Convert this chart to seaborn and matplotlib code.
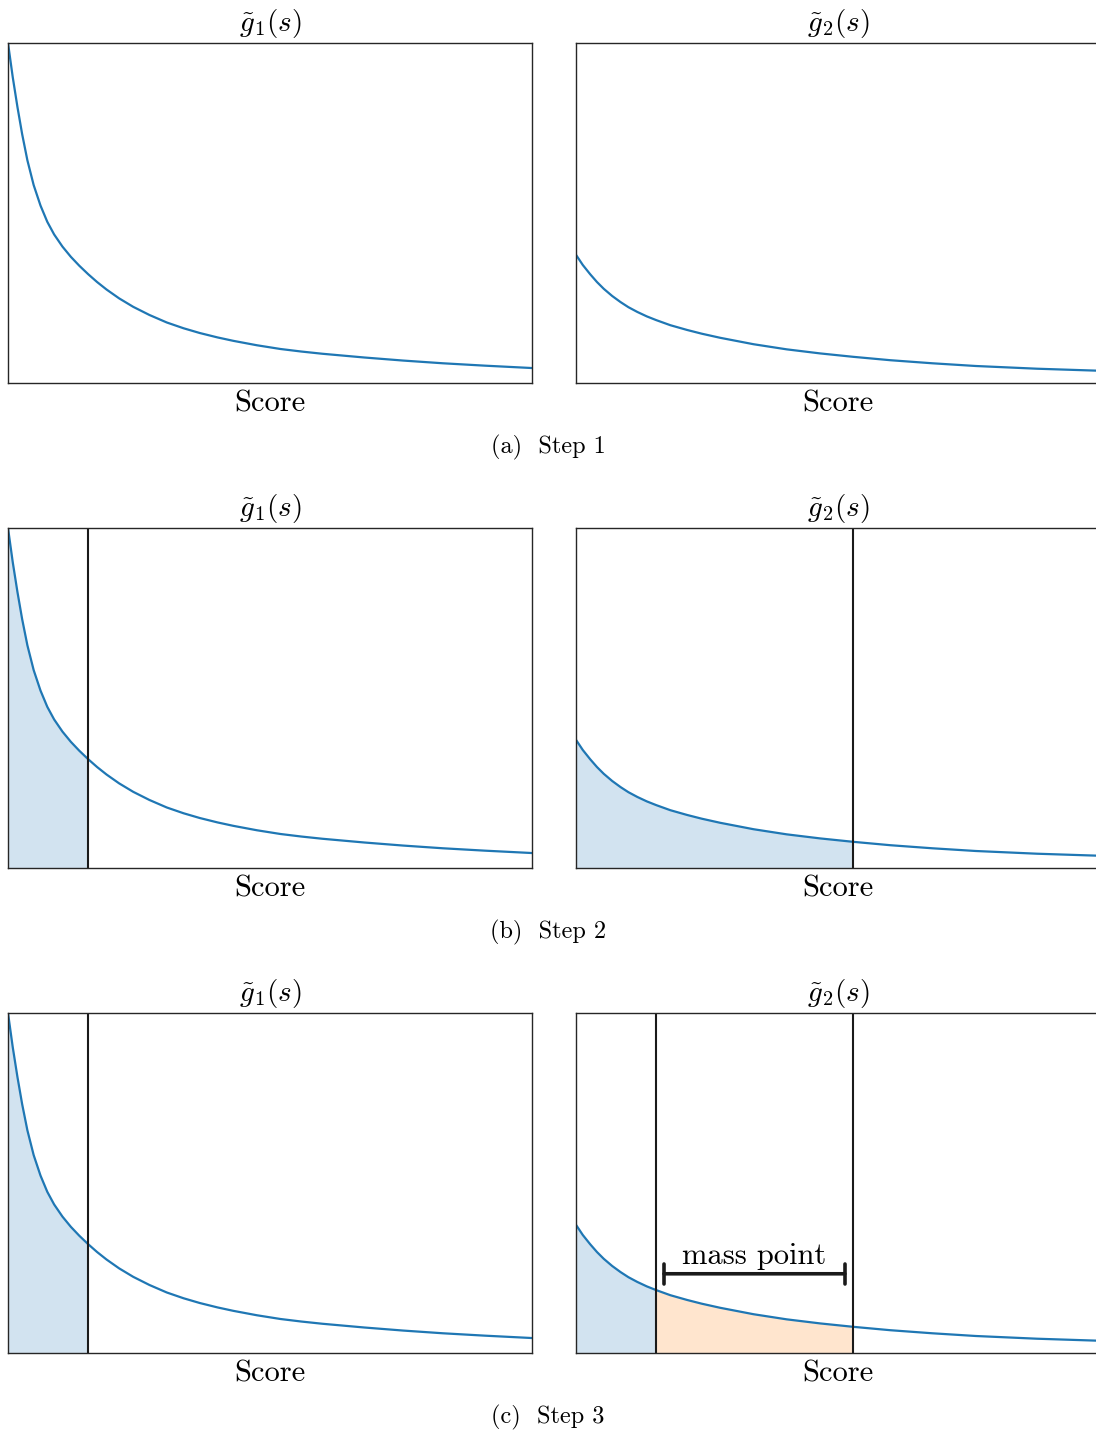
import numpy as np
import pandas as pd
import matplotlib
matplotlib.use("Agg")
import matplotlib.pyplot as plt
import seaborn as sns

# curve values (score scaled to 0..1, density scaled to 0..1)
g1_score = [0.0, 0.009, 0.018, 0.027, 0.037, 0.049, 0.062, 0.075, 0.088, 0.104,
            0.120, 0.136, 0.153, 0.170, 0.188, 0.212, 0.239, 0.270, 0.303, 0.335,
            0.366, 0.400, 0.430, 0.475, 0.520, 0.560, 0.600, 0.680, 0.754, 0.830,
            0.910, 1.0]
g1_density = [1.0, 0.900, 0.812, 0.732, 0.655, 0.582, 0.522, 0.474, 0.437, 0.401,
              0.371, 0.345, 0.320, 0.297, 0.275, 0.249, 0.224, 0.200, 0.178, 0.161,
              0.147, 0.134, 0.124, 0.111, 0.100, 0.0925, 0.086, 0.075, 0.066, 0.058,
              0.051, 0.044]

g2_score = [0.0, 0.013, 0.027, 0.040, 0.053, 0.069, 0.085, 0.100, 0.117, 0.135,
            0.153, 0.180, 0.212, 0.240, 0.275, 0.339, 0.402, 0.466, 0.529, 0.600,
            0.680, 0.763, 0.880, 1.0]
g2_density = [0.377, 0.347, 0.320, 0.297, 0.277, 0.256, 0.238, 0.223, 0.209, 0.196,
              0.185, 0.170, 0.156, 0.145, 0.133, 0.114, 0.099, 0.087, 0.077, 0.067,
              0.058, 0.050, 0.042, 0.036]

g1_cut = 0.153
g2_cuts = [0.153, 0.529]
mass_bar = [0.168, 0.513]
mass_bar_level = 0.233

titles = [r"$\tilde{g}_1(s)$", r"$\tilde{g}_2(s)$"]
captions = ["(a)  Step 1", "(b)  Step 2", "(c)  Step 3"]

sns.set_theme(style="white")
plt.rcParams["font.family"] = ["cmr10", "DejaVu Serif"]
plt.rcParams["mathtext.fontset"] = "cm"
plt.rcParams["axes.unicode_minus"] = False
plt.rcParams["axes.edgecolor"] = "0.15"
plt.rcParams["axes.linewidth"] = 1.0
plt.rcParams["text.color"] = "black"
plt.rcParams["axes.labelcolor"] = "black"
plt.rcParams["axes.titlecolor"] = "black"

blue = sns.color_palette("tab10")[0]
orange = sns.color_palette("tab10")[1]

g1 = pd.DataFrame({"score": g1_score, "density": g1_density})
g2 = pd.DataFrame({"score": g2_score, "density": g2_density})

W, H = 1096, 1435
fig = plt.figure(figsize=(W / 100, H / 100), dpi=100)

col_left = [8, 576]
ax_w = 524
row_top = [43, 528, 1013]
ax_h = 340
caption_y = [447, 932, 1417]


def draw_panel(ax, df, title):
    sns.lineplot(data=df, x="score", y="density", ax=ax, color=blue, lw=1.6)
    ax.set_xlim(0, 1)
    ax.set_ylim(0, 1)
    ax.set_xticks([])
    ax.set_yticks([])
    ax.set_ylabel("")
    ax.set_xlabel("Score", fontsize=22, labelpad=5)
    ax.set_title(title, fontsize=21, pad=9)


for r in range(3):
    axes = []
    for c in range(2):
        rect = [col_left[c] / W, 1 - (row_top[r] + ax_h) / H, ax_w / W, ax_h / H]
        ax = fig.add_axes(rect)
        axes.append(ax)
    ax1, ax2 = axes
    draw_panel(ax1, g1, titles[0])
    draw_panel(ax2, g2, titles[1])

    if r >= 1:
        sub = g1[g1.score <= g1_cut]
        ax1.fill_between(sub.score, sub.density, color=blue, alpha=0.2, lw=0)
        ax1.axvline(g1_cut, color="k", lw=1.5)

    if r == 1:
        sub = g2[g2.score <= g2_cuts[1]]
        ax2.fill_between(sub.score, sub.density, color=blue, alpha=0.2, lw=0)
        ax2.axvline(g2_cuts[1], color="k", lw=1.5)

    if r == 2:
        sub = g2[g2.score <= g2_cuts[0]]
        ax2.fill_between(sub.score, sub.density, color=blue, alpha=0.2, lw=0)
        sub = g2[(g2.score >= g2_cuts[0]) & (g2.score <= g2_cuts[1])]
        ax2.fill_between(sub.score, sub.density, color=orange, alpha=0.2, lw=0)
        for cut in g2_cuts:
            ax2.axvline(cut, color="k", lw=1.5)
        ax2.annotate("", xy=(mass_bar[0], mass_bar_level),
                     xytext=(mass_bar[1], mass_bar_level),
                     arrowprops=dict(arrowstyle="|-|,widthA=0.6,widthB=0.6",
                                     color="k", lw=2.6, shrinkA=0, shrinkB=0))
        ax2.text(np.mean(mass_bar), mass_bar_level + 0.01, "mass point",
                 ha="center", va="bottom", fontsize=22)

    fig.text(0.5, 1 - caption_y[r] / H, captions[r], ha="center", va="center",
             fontsize=17.5)

fig.savefig("out.png", dpi=100)
